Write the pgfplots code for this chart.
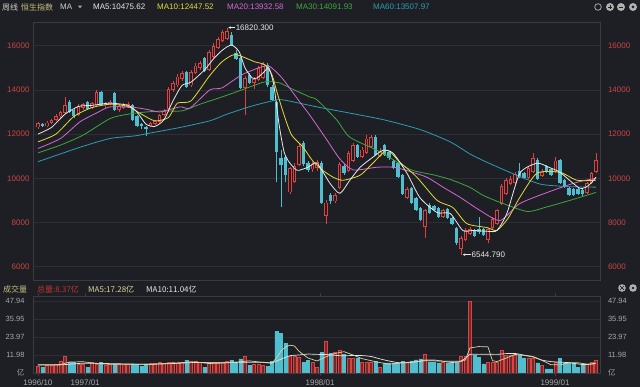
\documentclass[border=0pt]{standalone}
\usepackage{fontspec}
\setmainfont{Liberation Sans}
\newfontfamily\cjk{Noto Sans CJK SC}
\usepackage{pgfplots}
\pgfplotsset{compat=1.18}
\usetikzlibrary{arrows.meta}

\definecolor{bgc}{HTML}{1E1F24}
\definecolor{gridc}{HTML}{2D2E34}
\definecolor{framec}{HTML}{3A3B42}
\definecolor{upc}{HTML}{E0403E}
\definecolor{dnc}{HTML}{4FBFD0}
\definecolor{ma5}{HTML}{E8E8E8}
\definecolor{ma10}{HTML}{E2DA3C}
\definecolor{ma20}{HTML}{D268D6}
\definecolor{ma30}{HTML}{3FA63F}
\definecolor{ma60}{HTML}{2B9DB2}
\definecolor{tickred}{HTML}{C84444}
\definecolor{tickgray}{HTML}{A8A8A8}
\definecolor{hdr}{HTML}{C8C07A}
\definecolor{hdrw}{HTML}{D2D2C4}
\definecolor{vma5}{HTML}{DCD49C}

\newcommand\hf{\fontsize{8}{9}\selectfont}
% candle macros: index, open, high, low, close
\newcommand\U[5]{%
  \addplot[upc, line width=0.6pt] coordinates {(#1,#4) (#1,#3)};
  \addplot[upc, line width=3.3pt] coordinates {(#1,#2) (#1,#5)};
  \addplot[bgc, line width=1.5pt, shorten <=0.85pt, shorten >=0.85pt] coordinates {(#1,#2) (#1,#5)};}
\newcommand\D[5]{%
  \addplot[dnc, line width=0.6pt] coordinates {(#1,#4) (#1,#3)};
  \addplot[dnc, line width=3.1pt] coordinates {(#1,#2) (#1,#5)};}

\pgfplotsset{base/.style={scale only axis, width=567pt, xmin=-1.1, xmax=124.9,
  axis line style={draw=framec, line width=0.5pt}, tick style={draw=none},
  xmajorgrids=false, ymajorgrids=true, scaled y ticks=false, scaled x ticks=false,
  major grid style={draw=gridc, line width=0.5pt},
  clip=true}}

\begin{document}
\begin{tikzpicture}
\useasboundingbox (0,0) rectangle (640pt,387pt);
\fill[bgc] (0,0) rectangle (640pt,387pt);

% ---------- header ----------
\node[anchor=west, inner sep=0pt, hdrw] at (2pt,380pt) {\hf\cjk 周线};
\node[anchor=west, inner sep=0pt, hdr] at (21pt,380pt) {\hf\cjk 恒生指数};
\node[anchor=west, inner sep=0pt, hdrw] at (60pt,380pt) {\hf MA};
\fill[tickgray] (78pt,381.3pt) -- (82pt,381.3pt) -- (80pt,378.7pt) -- cycle;
\node[anchor=west, inner sep=0pt, ma5] at (93pt,380pt) {\hf MA5:10475.62};
\node[anchor=west, inner sep=0pt, ma10] at (157pt,380pt) {\hf MA10:12447.52};
\node[anchor=west, inner sep=0pt, ma20] at (227pt,380pt) {\hf MA20:13932.58};
\node[anchor=west, inner sep=0pt, ma30] at (296pt,380pt) {\hf MA30:14091.93};
\node[anchor=west, inner sep=0pt, ma60] at (373pt,380pt) {\hf MA60:13507.97};
\draw[tickgray, line width=0.8pt] (598pt,380pt) circle (3.3pt);
\fill[tickgray!90] (610pt,380pt) circle (4pt);
\fill[tickgray!90] (621pt,380pt) circle (4pt);
\fill[tickgray!90] (633pt,380pt) circle (4pt);
\fill[bgc] (633pt,380pt) circle (1.5pt);
\draw[bgc, line width=0.8pt] (608pt,380pt) -- (612pt,380pt) (610pt,378pt) -- (610pt,382pt);
\draw[bgc, line width=0.8pt] (619pt,380pt) -- (623pt,380pt);

% volume header
\node[anchor=west, inner sep=0pt, hdr] at (3pt,98pt) {\hf\cjk 成交量};
\node[anchor=west, inner sep=0pt, upc!85!black] at (37pt,98pt) {\hf\cjk 总量:8.37亿};
\node[anchor=west, inner sep=0pt, vma5] at (88pt,98pt) {\hf\cjk MA5:17.28亿};
\node[anchor=west, inner sep=0pt, ma5] at (146pt,98pt) {\hf\cjk MA10:11.04亿};
\fill[tickgray!90] (622pt,99pt) circle (3.8pt);
\fill[tickgray!90] (633pt,99pt) circle (3.8pt);
\fill[bgc] (633pt,99pt) circle (1.4pt);
\draw[bgc, line width=0.7pt] (620pt,101pt) -- (624pt,97pt) (620pt,97pt) -- (624pt,101pt);

% ---------- price panel ----------
\begin{axis}[base, at={(33pt,107pt)}, anchor=south west, height=258pt,
  ymin=5398, ymax=17072, xtick=\empty,
  ytick={6000,8000,10000,12000,14000,16000},
  yticklabels={6000,8000,10000,12000,14000,16000},
  yticklabel style={tickred, font=\fontsize{8}{9}\selectfont}]
\U{0}{12300}{12550}{12250}{12480}
\D{1}{12450}{12500}{12300}{12350}
\U{2}{12350}{12600}{12300}{12520}
\U{3}{12500}{12700}{12450}{12650}
\U{4}{12650}{12900}{12600}{12820}
\U{5}{12800}{13050}{12750}{12980}
\U{6}{12950}{13700}{12900}{13300}
\D{7}{13450}{13550}{12950}{13000}
\D{8}{13100}{13200}{12750}{12800}
\U{9}{12850}{13350}{12800}{13250}
\U{10}{13200}{13400}{13100}{13350}
\D{11}{13450}{13500}{13100}{13150}
\U{12}{13200}{13450}{13150}{13400}
\U{13}{13300}{14000}{13250}{13900}
\D{14}{13900}{13950}{13250}{13300}
\U{15}{13300}{13450}{13200}{13400}
\U{16}{13350}{13550}{13300}{13450}
\D{17}{13850}{13900}{13050}{13100}
\U{18}{13100}{13350}{13000}{13250}
\U{19}{13200}{13400}{13150}{13300}
\U{20}{13250}{13450}{13200}{13350}
\D{21}{13300}{13350}{12600}{12650}
\D{22}{12800}{12850}{12300}{12350}
\D{23}{12450}{12500}{12250}{12350}
\D{24}{12300}{12350}{11900}{12250}
\U{25}{12350}{12550}{12300}{12500}
\U{26}{12450}{12650}{12400}{12600}
\U{27}{12550}{12900}{12500}{12850}
\U{28}{12850}{13150}{12800}{13050}
\U{29}{13150}{14150}{13100}{14050}
\U{30}{14000}{14400}{13900}{14300}
\U{31}{14200}{14700}{14150}{14600}
\U{32}{14500}{14850}{14400}{14750}
\D{33}{14800}{14850}{14100}{14150}
\U{34}{14200}{14900}{14150}{14800}
\U{35}{14750}{15200}{14700}{15100}
\U{36}{15000}{15300}{14900}{15200}
\D{37}{15450}{15500}{14800}{14850}
\U{38}{14900}{15800}{14850}{15700}
\U{39}{15500}{16100}{15400}{16000}
\U{40}{15900}{16400}{15850}{16300}
\U{41}{16200}{16700}{16150}{16600}
\U{42}{16300}{16820}{16250}{16650}
\D{43}{16500}{16600}{16000}{16050}
\D{44}{15650}{15800}{15350}{15400}
\D{45}{15450}{15500}{14050}{14100}
\U{46}{14100}{14650}{12870}{14550}
\D{47}{14680}{14750}{14250}{14320}
\U{48}{14300}{14600}{14050}{14500}
\U{49}{14450}{15100}{14400}{15000}
\U{50}{14550}{15250}{14500}{15150}
\D{51}{15140}{15200}{14150}{14230}
\D{52}{14140}{14200}{13500}{13550}
\D{53}{13450}{13500}{9820}{11180}
\D{54}{10900}{11300}{8680}{10590}
\D{55}{10950}{11000}{9850}{10140}
\U{56}{9360}{10500}{9300}{10450}
\U{57}{9850}{10700}{9800}{10550}
\U{58}{10600}{11600}{10550}{11450}
\D{59}{11600}{11700}{10550}{10650}
\D{60}{10680}{10800}{10300}{10360}
\U{61}{10400}{10750}{10300}{10650}
\U{62}{10450}{10820}{10350}{10750}
\D{63}{10700}{10800}{8850}{8900}
\U{64}{8300}{9000}{7950}{8900}
\D{65}{9250}{9350}{8850}{8950}
\U{66}{8950}{9350}{8900}{9250}
\U{67}{9550}{10750}{9500}{10650}
\D{68}{10550}{10650}{10150}{10250}
\U{69}{10350}{11250}{10300}{11150}
\U{70}{10800}{11600}{10750}{11500}
\D{71}{11500}{11550}{10900}{10950}
\U{72}{10950}{11400}{10900}{11300}
\U{73}{11150}{11950}{11100}{11800}
\U{74}{11400}{11950}{11350}{11850}
\D{75}{11850}{11950}{11000}{11050}
\U{76}{11000}{11350}{10950}{11250}
\D{77}{11500}{11550}{11000}{11050}
\D{78}{11200}{11250}{10850}{10900}
\D{79}{10800}{10850}{10400}{10450}
\D{80}{10700}{10750}{10000}{10050}
\D{81}{10150}{10200}{9250}{9300}
\U{82}{9100}{9600}{9050}{9500}
\D{83}{9550}{9600}{8850}{8900}
\D{84}{9100}{9150}{8500}{8550}
\D{85}{8650}{8700}{8050}{8100}
\U{86}{7800}{8600}{7320}{8550}
\D{87}{8800}{8900}{8400}{8450}
\D{88}{8750}{8800}{8500}{8550}
\D{89}{8650}{8700}{8200}{8250}
\U{90}{8250}{8600}{8200}{8550}
\D{91}{8600}{8650}{8150}{8200}
\D{92}{8200}{8250}{7900}{7950}
\D{93}{7750}{7800}{7000}{7050}
\U{94}{6800}{7400}{6545}{7300}
\U{95}{7200}{7750}{7150}{7650}
\U{96}{7500}{7800}{7450}{7700}
\D{97}{7650}{7700}{7350}{7400}
\D{98}{7700}{8250}{7500}{7550}
\D{99}{7700}{7750}{7400}{7450}
\U{100}{7200}{7750}{7050}{7700}
\U{101}{7750}{8250}{7700}{8150}
\U{102}{7950}{8600}{7900}{8550}
\U{103}{8850}{9750}{8800}{9650}
\U{104}{9300}{10000}{9250}{9900}
\U{105}{9750}{10100}{9700}{9950}
\U{106}{9800}{10300}{9750}{10200}
\D{107}{10350}{10700}{10000}{10050}
\D{108}{10250}{10300}{9950}{10000}
\U{109}{10000}{10550}{9950}{10450}
\U{110}{10300}{11150}{10250}{10900}
\D{111}{10850}{10900}{9900}{9950}
\U{112}{10100}{10400}{10050}{10300}
\D{113}{10550}{10600}{10250}{10300}
\D{114}{10400}{10450}{10100}{10150}
\U{115}{10300}{10950}{10250}{10800}
\D{116}{10820}{10870}{9750}{9770}
\D{117}{9900}{9950}{9550}{9600}
\D{118}{9550}{9600}{9200}{9250}
\D{119}{9500}{9550}{9200}{9250}
\D{120}{9500}{9550}{9250}{9300}
\D{121}{9450}{9500}{9200}{9300}
\U{122}{9320}{9850}{9300}{9770}
\U{123}{9780}{10300}{9750}{10230}
\U{124}{10270}{11140}{10250}{10820}
% moving averages
\addplot[ma60, line width=0.8pt, smooth, tension=0.4] coordinates {
(0,10750) (9.3,11400) (16,11800) (21.6,11920) (25,12050) (31.6,12300) (38.2,12600) (42,12900) (46.9,13230) (52,13500) (54.4,13550) (62,13230) (69.3,12950) (77,12640) (85,12200) (91.6,11650) (96,11100) (99.5,10750) (104.5,10300) (108,10000) (112,9720) (118,9620) (124,9600)};
\addplot[ma30, line width=0.8pt, smooth, tension=0.4] coordinates {
(0,11150) (5,11500) (10,11950) (16,12700) (20,12900) (24,13000) (28,13050) (32,13050) (36,13350) (40.9,13680) (45.3,14000) (50.4,14360) (53.6,14320) (56.4,14050) (60.4,13680) (62,13550) (66.4,12640) (69.3,11860) (76,11200) (82.7,10400) (88,10150) (91.6,9950) (96,9590) (98.9,9230) (102.7,8910) (108.7,8500) (113,8700) (118.2,9000) (124,9360)};
\addplot[ma20, line width=0.8pt, smooth, tension=0.4] coordinates {
(0,11350) (5,11800) (9.3,12550) (13,12950) (16,13230) (21.6,13200) (24.9,13090) (27,13000) (31.6,13230) (33.8,13180) (38.2,14000) (40.9,14090) (45.3,14680) (49.8,15050) (51.6,15050) (54.2,14550) (56.4,13950) (58.2,13450) (60.4,12860) (64,11800) (67,10900) (70,10380) (75.3,10500) (79,10500) (82,10350) (86.4,10050) (90,9600) (93.8,9140) (98.2,8550) (102.7,8090) (107.1,8860) (114.4,9450) (119.8,9820) (124,10000)};
\addplot[ma10, line width=0.8pt, smooth, tension=0.4] coordinates {
(0,11650) (4,12000) (8,12800) (12,13200) (16,13350) (20,13250) (23,12900) (26,12600) (29,12750) (31,13400) (34,13500) (38,14600) (40.9,15270) (43.8,15600) (48.2,15270) (50.4,15140) (52,14680) (53.1,13910) (54.9,12730) (56.4,11950) (58.9,11410) (61,10800) (63,10400) (65.6,10050) (67.8,9910) (71.6,10140) (74.4,10680) (77.6,11270) (80.4,10730) (84.2,10050) (88.7,9000) (92.2,8680) (95.3,7950) (99.8,7770) (102,7640) (104.5,8200) (107.1,9140) (110.9,10230) (116,10270) (119.8,9910) (124,9910)};
\addplot[ma5, line width=0.8pt, smooth, tension=0.4] coordinates {
(0,12000) (3,12300) (6,12900) (9,13250) (12,13300) (16,13400) (20,13300) (22,13000) (24,12450) (26,12350) (28,12650) (30,13500) (32,14200) (34,14350) (37,14900) (39,15400) (41,15800) (43,16030) (44.7,15730) (46,15000) (47.6,14540) (48.7,14540) (50.2,14800) (51.3,15000) (52.4,14230) (53.6,12410) (54.7,11190) (55.8,10740) (57.6,10360) (60,10500) (62,10680) (64.9,9770) (67.1,9320) (69.3,9910) (71.6,10500) (74.4,10950) (76.7,11270) (78.9,11140) (82,10230) (84.9,9120) (88.7,8450) (91.6,8410) (94.4,7640) (96.7,7640) (100,7600) (102,7640) (104.2,8410) (107.1,10230) (110.9,10680) (113.5,10500) (116,10270) (120.4,9550) (122.5,9700) (124,10050)};
% annotations of extreme values
\draw[ma5, line width=0.5pt, {Stealth[length=2.5pt,width=2.5pt]}-] (axis cs:42.3,16820) -- (axis cs:43.8,16820)
  node[anchor=west, inner sep=0.5pt, ma5, font=\fontsize{8}{9}\selectfont] {16820.300};
\draw[ma5, line width=0.5pt, {Stealth[length=2.5pt,width=2.5pt]}-] (axis cs:94.4,6545) -- (axis cs:96.2,6545)
  node[anchor=west, inner sep=0.5pt, ma5, font=\fontsize{8}{9}\selectfont] {6544.790};
\end{axis}
% right-hand price labels
\begin{axis}[base, at={(33pt,107pt)}, anchor=south west, height=258pt,
  ymin=5398, ymax=17072, axis x line=none, axis y line*=right,
  axis line style={draw=none}, ymajorgrids=false,
  ytick={6000,8000,10000,12000,14000,16000},
  yticklabels={6000,8000,10000,12000,14000,16000},
  yticklabel style={tickred, font=\fontsize{8}{9}\selectfont, xshift=4.5pt}]
\addplot[draw=none] coordinates {(0,10000)};
\end{axis}

% ---------- volume panel ----------
\begin{axis}[base, at={(33pt,14pt)}, anchor=south west, height=77pt,
  ymin=0, ymax=51.27,
  ytick={0,11.98,23.97,35.95,47.94},
  yticklabels={{\cjk 亿},11.98,23.97,35.95,47.94},
  yticklabel style={tickgray, font=\fontsize{7.5}{9}\selectfont, xshift=-2pt},
  xtick={0,10.5,62.7,114.9},
  xticklabels={1996/10,1997/01,1998/01,1999/01},
  xticklabel style={tickgray, font=\fontsize{8}{9}\selectfont},
  xtick style={draw=framec}, tick align=outside, major tick length=3pt]
\addplot[ybar, bar width=0.66, bar shift=0pt, draw=upc, fill=upc!40!bgc, line width=0.6pt] coordinates {
(0,4.5) (2,5.0) (3,5.0) (4,5.5) (5,8.0) (6,10.8) (9,6.1) (10,6.1) (12,7.2) (13,6.1) (15,5.0) (16,5.5) (18,5.9) (19,5.9) (20,5.9) (25,6.5) (26,6.5) (27,6.8) (28,6.5) (29,6.8) (30,7.0) (31,6.5) (32,6.8) (34,7.5) (35,7.5) (36,7.0) (38,7.0) (39,7.0) (40,7.2) (41,7.0) (42,7.5) (46,11.0) (48,5.5) (49,5.5) (50,5.0) (56,11.4) (57,11.4) (58,10.4) (61,7.0) (62,3.8) (64,20.8) (66,14.0) (67,15.1) (69,9.8) (70,9.8) (72,7.0) (73,7.0) (74,7.0) (76,3.8) (82,6.8) (86,12.7) (90,6.8) (94,11.0) (95,11.0) (96,47.94) (100,6.8) (101,7.0) (102,7.2) (103,15.1) (104,11.8) (105,11.8) (106,11.8) (109,10.0) (110,10.0) (112,5.0) (115,7.2) (122,6.0) (123,6.8) (124,8.37)};
\addplot[ybar, bar width=0.66, bar shift=0pt, draw=dnc, fill=dnc, line width=0.55pt] coordinates {
(1,3.9) (7,6.9) (8,6.9) (11,3.8) (14,7.0) (17,5.9) (21,5.9) (22,5.5) (23,4.5) (24,6.0) (33,8.4) (37,3.5) (43,8.4) (44,6.5) (45,9.4) (47,5.0) (51,4.5) (52,7.5) (53,27.6) (54,26.4) (55,19.7) (59,7.0) (60,8.4) (63,13.6) (65,12.9) (68,12.3) (71,9.8) (75,7.8) (77,6.8) (78,6.8) (79,6.8) (80,6.8) (81,7.5) (83,8.0) (84,8.7) (85,9.4) (87,7.4) (88,7.4) (89,6.8) (91,6.8) (92,6.8) (93,7.0) (97,11.8) (98,10.6) (99,6.1) (107,11.8) (108,10.0) (111,6.8) (113,2.7) (114,2.7) (116,9.5) (117,6.8) (118,6.8) (119,6.8) (120,3.8) (121,5.5)};
\addplot[ma5, line width=0.7pt, smooth, tension=0.4] coordinates {
(0,5.3) (5,5.4) (10,6.5) (15,6.3) (20,6.0) (25,5.8) (30,6.3) (35,7.0) (40,6.8) (45,7.1) (50,7.2) (52,6.8) (54,9.2) (56,11.5) (58,12.0) (60,12.6) (62,12.4) (64,12.3) (66,11.8) (68,11.4) (70,11.7) (72,11.6) (74,11.0) (76,9.4) (78,8.0) (80,6.9) (82,6.8) (84,7.5) (86,8.2) (88,8.1) (90,7.9) (94,8.0) (96,12.3) (98,12.4) (100,12.5) (102,12.4) (104,12.9) (106,13.0) (108,11.9) (110,10.9) (112,8.6) (114,7.6) (116,7.2) (118,6.9) (120,6.0) (122,5.6) (124,6.6)};
\addplot[vma5, line width=0.7pt, sharp plot] coordinates {
(0,5.5) (5,5.6) (7,7.3) (10,7.5) (13,6.3) (16,5.8) (20,5.8) (25,5.8) (30,6.6) (35,7.4) (38,6.3) (41,6.6) (45,7.5) (47,8.1) (50,7.0) (52,6.5) (53,10.0) (54,14.5) (55,17.4) (56,18.5) (57,18.0) (58,14.5) (60,10.0) (62,8.0) (64,10.8) (66,13.0) (68,14.2) (70,12.0) (72,9.6) (74,8.2) (76,6.9) (78,5.9) (80,6.5) (82,7.1) (84,7.4) (86,8.6) (88,8.7) (90,7.8) (92,6.9) (94,7.6) (95,8.7) (96,16.7) (98,17.6) (100,17.4) (101,8.2) (102,7.6) (104,9.9) (106,12.4) (108,11.7) (110,10.7) (112,8.4) (114,5.5) (116,5.4) (118,6.8) (120,6.8) (122,5.9) (124,6.1)};
\end{axis}
% right-hand volume labels
\begin{axis}[base, at={(33pt,14pt)}, anchor=south west, height=77pt,
  ymin=0, ymax=51.27, axis x line=none, axis y line*=right,
  axis line style={draw=none}, ymajorgrids=false,
  ytick={0,11.98,23.97,35.95,47.94},
  yticklabels={{\cjk 亿},11.98,23.97,35.95,47.94},
  yticklabel style={tickgray, font=\fontsize{7.5}{9}\selectfont, xshift=4.5pt}]
\addplot[draw=none] coordinates {(0,10)};
\end{axis}
\end{tikzpicture}
\end{document}
